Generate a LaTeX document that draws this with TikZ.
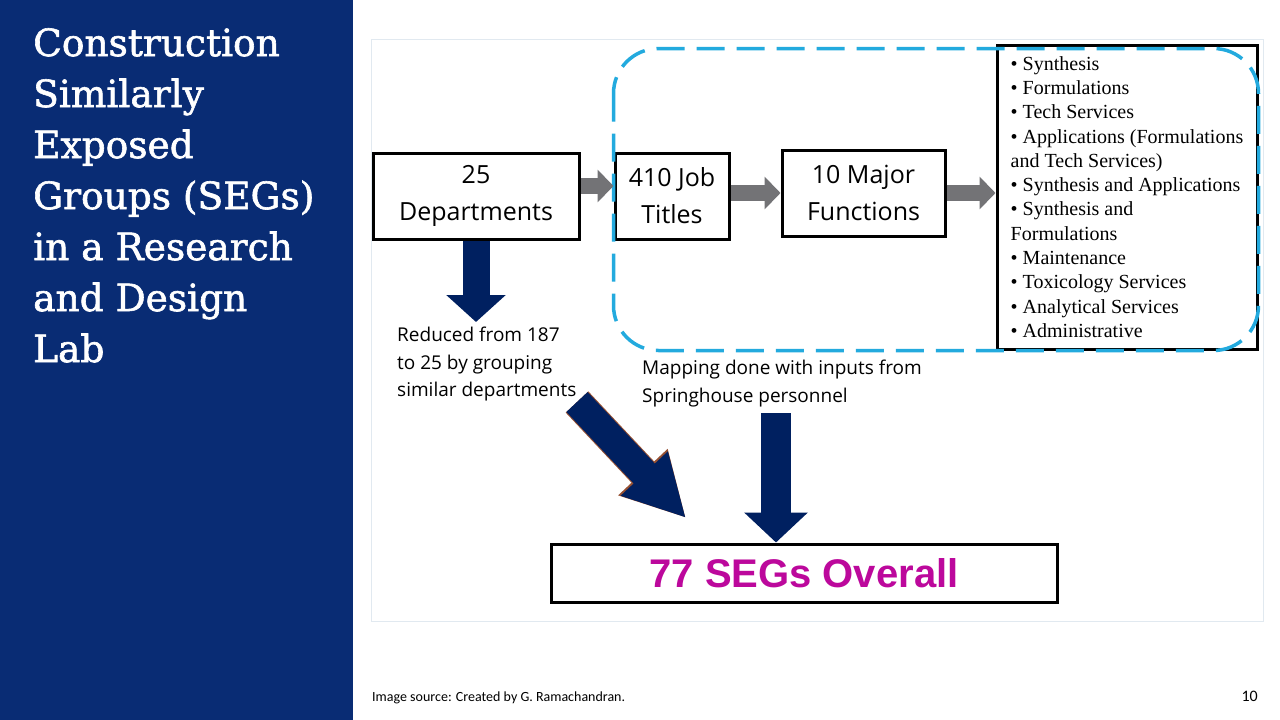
\documentclass[tikz,border=0pt]{standalone}
\usepackage{fontspec}
\setmainfont{Liberation Serif}
\newfontfamily\titlefont{DejaVu Serif}[FakeBold=1.6]
\newfontfamily\boxfont{Open Sans}
\newfontfamily\notefont{Carlito}
\newfontfamily\segfont{Liberation Sans}
\usepackage{tikz}
\usetikzlibrary{arrows.meta, positioning, calc}
\definecolor{panelblue}{RGB}{9,44,116}
\definecolor{navyarrow}{RGB}{0,32,96}
\definecolor{edgebrown}{RGB}{150,80,50}
\definecolor{midgray}{RGB}{115,115,118}
\definecolor{dashcyan}{RGB}{35,170,222}
\definecolor{segmagenta}{RGB}{188,8,156}
\definecolor{framegray}{RGB}{225,233,240}
\tikzset{
  stepbox/.style={rectangle,draw=black,line width=3pt,fill=white,align=center,
    minimum height=86pt,inner sep=0pt,font=\boxfont\fontsize{25}{37}\selectfont},
  listbox/.style={rectangle,draw=black,line width=3pt,fill=white,align=left,
    minimum width=260pt,minimum height=304pt,inner sep=0pt,font=\fontsize{20}{24.3}\selectfont},
  segbox/.style={rectangle,draw=black,line width=3pt,minimum width=506pt,minimum height=58pt,
    text=segmagenta,font=\segfont\bfseries\fontsize{40}{44}\selectfont},
  notetext/.style={align=left,inner sep=0pt,font=\boxfont\fontsize{19}{27.5}\selectfont},
  titletext/.style={align=left,inner sep=0pt,text=white,font=\titlefont\fontsize{37.5}{51}\selectfont},
  grayarr/.style={-{Triangle[length=16pt,width=32pt]},line width=16pt,color=midgray},
  navyarr/.style={-{Triangle[length=#1,width=60pt]},line width=28pt,color=navyarrow},
  dashbox/.style={draw=dashcyan,line width=3.5pt,dash pattern=on 28pt off 12pt,rounded corners=45pt}
}

\begin{document}
\begin{tikzpicture}[x=1pt,y=-1pt,node distance=33pt and 50pt]
  \useasboundingbox (0,0) rectangle (1280,720);
  \fill[white] (0,0) rectangle (1280,720);
  \fill[panelblue] (0,0) rectangle (353,720);
  \draw[framegray,line width=1pt] (371,39) rectangle (1263,621);

  \node[titletext,anchor=north west] (title) at (33,28)
    {Construction\\Similarly\\Exposed\\Groups (SEGs)\\in a Research\\and Design\\Lab};

  % flow along the top
  \node[stepbox,minimum width=206pt] (dep) at (476,196) {25\\Departments};
  \node[stepbox,minimum width=114pt,right=33pt of dep] (job) {410 Job\\Titles};
  \node[stepbox,minimum width=163pt,right=50pt of job,yshift=3pt] (fun) {10 Major\\Functions};
  \node[listbox,right=49pt of fun,yshift=-4pt] (list)
    {\textbullet\ Synthesis\\
     \textbullet\ Formulations\\
     \textbullet\ Tech Services\\
     \textbullet\ Applications (Formulations\\
     and Tech Services)\\
     \textbullet\ Synthesis and Applications\\
     \textbullet\ Synthesis and\\
     Formulations\\
     \textbullet\ Maintenance\\
     \textbullet\ Toxicology Services\\
     \textbullet\ Analytical Services\\
     \textbullet\ Administrative};

  \draw[dashbox] ([yshift=-5pt]job.west |- list.north) rectangle (list.south east);

  \draw[grayarr] ([yshift=10pt]dep.east) -- ([yshift=10pt]job.west);
  \draw[grayarr] (fun.west -| job.east) -- (fun.west);
  \draw[grayarr] (fun.east) -- (fun.east -| list.west);

  % notes and result
  \node[notetext,anchor=north west] (red) at (397,327)
    {Reduced from 187\\to 25 by grouping\\similar departments};
  \node[notetext,anchor=north west] (map) at (642,360)
    {Mapping done with inputs from\\Springhouse personnel};
  \node[segbox] (segs) at (804,573) {77 SEGs Overall};

  \coordinate (dtail) at (577,402);
  \coordinate (dtip) at (686,518);
  \coordinate (mtail) at (776,413);

  \draw[navyarr=27pt,line width=27pt,-{Triangle[length=27pt,width=58pt]}]
    (dep.south) -- ([yshift=5pt]dep.south |- red.north);
  \draw[line width=31pt,color=edgebrown,-{Triangle[length=63pt,width=63pt]}] (dtail) -- (dtip);
  \draw[navyarr=61pt,line width=29pt,-{Triangle[length=61pt,width=60pt]}] (dtail) -- (dtip);
  \draw[navyarr=30pt,line width=30pt,-{Triangle[length=30pt,width=62pt]}]
    (mtail) -- (mtail |- segs.north);

  % footer
  \node[anchor=west,inner sep=0pt,font=\notefont\fontsize{14}{17}\selectfont] (src) at (372,698)
    {Image source: Created by G. Ramachandran.};
  \node[anchor=east,inner sep=0pt,font=\notefont\fontsize{16}{19}\selectfont] (page) at (1258,696) {10};
\end{tikzpicture}
\end{document}
